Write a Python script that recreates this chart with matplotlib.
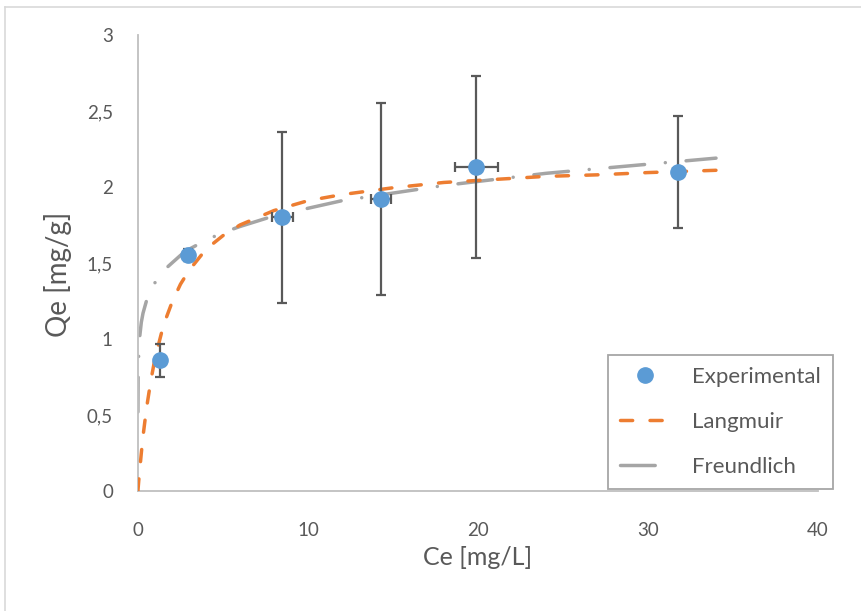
import matplotlib
matplotlib.use('Agg')
import matplotlib.pyplot as plt
from matplotlib.lines import Line2D

# Datos experimentales
ce_exp = [1.3, 2.95, 8.5, 14.3, 19.9, 31.75]
qe_exp = [0.86, 1.55, 1.80, 1.92, 2.13, 2.10]
ce_err = [0.12, 0.12, 0.6, 0.6, 1.25, 0.3]
qe_err = [0.11, 0.04, 0.56, 0.63, 0.60, 0.37]

# Curvas de ajuste
ce_lang = [0, 0.05, 0.1, 0.2, 0.3, 0.5, 0.75, 1, 1.5, 2, 2.5, 3, 4, 5, 6, 8,
           10, 12, 15, 18, 21, 24, 27, 30, 34]
qe_lang = [0, 0.07, 0.13, 0.25, 0.36, 0.54, 0.72, 0.87, 1.09, 1.24, 1.36, 1.45,
           1.59, 1.68, 1.75, 1.845, 1.91, 1.95, 1.995, 2.03, 2.05, 2.07, 2.08,
           2.095, 2.11]

ce_freu = [0.001, 0.01, 0.05, 0.1, 0.2, 0.3, 0.5, 0.75, 1, 1.5, 2, 2.5, 3, 4, 5,
           6, 8, 10, 12, 15, 18, 21, 24, 27, 30, 34]
qe_freu = [0.52, 0.74, 0.92, 1.01, 1.11, 1.17, 1.25, 1.32, 1.37, 1.45, 1.50,
           1.55, 1.59, 1.65, 1.70, 1.74, 1.81, 1.86, 1.91, 1.96, 2.01, 2.05,
           2.09, 2.12, 2.15, 2.19]

x_ticks = [0, 10, 20, 30, 40]
y_ticks = [0, 0.5, 1, 1.5, 2, 2.5, 3]
y_labels = ['0', '0,5', '1', '1,5', '2', '2,5', '3']

txt = '#595959'
plt.rcParams['font.family'] = ['Lato', 'DejaVu Sans']

fig = plt.figure(figsize=(8.62, 6.11), dpi=100)
ax = fig.add_axes([0.160, 0.1964, 0.789, 0.7463])

# Curvas
ax.plot(ce_lang, qe_lang, color='#ED7D31', lw=2.5, dashes=(3.5, 5),
        dash_capstyle='round', label='Langmuir', zorder=3)
ax.plot(ce_freu, qe_freu, color='#A5A5A5', lw=2.5, dashes=(10, 6, 0.01, 6),
        dash_capstyle='round', label='Freundlich', zorder=2)

# Puntos con barras de error
ax.errorbar(ce_exp, qe_exp, xerr=ce_err, yerr=qe_err, fmt='none',
            ecolor='#595959', elinewidth=1.6, capsize=3.8, capthick=1.6, zorder=4)
ax.plot(ce_exp, qe_exp, 'o', color='#5B9BD5', ms=11, mec='#5B9BD5',
        label='Experimental', zorder=5, linestyle='none')

ax.set_xlim(0, 40)
ax.set_ylim(0, 3)
ax.set_xticks(x_ticks)
ax.set_yticks(y_ticks)
ax.set_yticklabels(y_labels)
ax.tick_params(length=0, labelsize=13.5, colors=txt)
ax.tick_params(axis='x', pad=22)
ax.tick_params(axis='y', pad=18)
for s in ['top', 'right']:
    ax.spines[s].set_visible(False)
for s in ['left', 'bottom']:
    ax.spines[s].set_color('#BFBFBF')
    ax.spines[s].set_linewidth(1.3)

ax.set_xlabel('Ce [mg/L]', fontsize=18, color=txt, va='center')
ax.set_ylabel('Qe [mg/g]', fontsize=20, color=txt, va='center')
ax.xaxis.set_label_coords(0.5, -0.145)
ax.yaxis.set_label_coords(-0.1176, 0.476)

handles, labels = ax.get_legend_handles_labels()
order = [2, 0, 1]
leg = fig.legend([handles[i] for i in order], [labels[i] for i in order],
                 loc='upper left',
                 bbox_to_anchor=(608 / 862, 1 - 490 / 611, 225 / 862, 135 / 611),
                 mode='expand', fontsize=16, labelspacing=1.12, handlelength=2.25,
                 handletextpad=1.0, borderpad=0.55, borderaxespad=0, fancybox=False,
                 framealpha=1, edgecolor='#A6A6A6', labelcolor=txt)
leg.get_frame().set_linewidth(1.3)

# Borde del grafico
fig.add_artist(Line2D([0.006, 0.006], [0, 0.988], transform=fig.transFigure,
                      color='#D9D9D9', lw=1.2))
fig.add_artist(Line2D([0.006, 1], [0.988, 0.988], transform=fig.transFigure,
                      color='#D9D9D9', lw=1.2))

fig.savefig('out.png', dpi=100)
